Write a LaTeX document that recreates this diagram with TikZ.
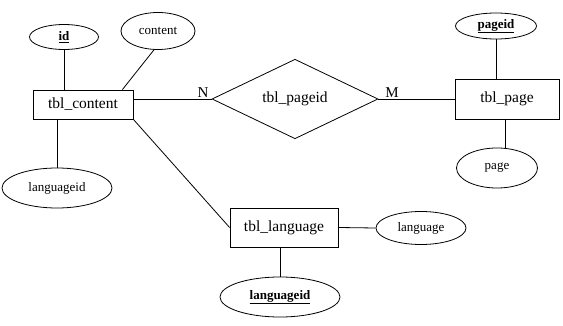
\documentclass[tikz,border=0pt]{standalone}
\usepackage{fontspec}
\setmainfont{Liberation Serif}
\usetikzlibrary{shapes.geometric}
\begin{document}
\begin{tikzpicture}[x=1pt,y=-1pt,line width=0.8pt,
  entity/.style={draw,rectangle,inner sep=0pt,font=\fontsize{15.5}{17}\selectfont},
  attr/.style={draw,ellipse,inner sep=0pt,font=\fontsize{13}{15}\selectfont},
  keyattr/.style={attr,font=\fontsize{13}{15}\selectfont\bfseries},
  rel/.style={draw,diamond,inner sep=0pt,font=\fontsize{15.5}{17}\selectfont},
  card/.style={inner sep=0pt,font=\fontsize{15}{17}\selectfont}]
\useasboundingbox (0,0) rectangle (563,326);
% entities
\node[entity,minimum width=100pt,minimum height=29pt] (tc) at (83,104.5) {tbl\_content};
\node[entity,minimum width=104pt,minimum height=40pt] (tp) at (507,99) {tbl\_page};
\node[entity,minimum width=108pt,minimum height=39pt] (tl) at (284,227.5) {tbl\_language};
% relationship
\node[rel,minimum width=166pt,minimum height=60pt] (r) at (295,99) {tbl\_pageid};
% attributes
\node[keyattr,minimum width=69pt,minimum height=25pt] (id) at (64,37) {\underline{id}};
\node[attr,minimum width=74pt,minimum height=37pt] (cont) at (158,31) {content};
\node[attr,minimum width=110pt,minimum height=40pt] (lid1) at (57,188) {languageid};
\node[keyattr,minimum width=81pt,minimum height=26pt] (pid) at (496,26) {\underline{pageid}};
\node[attr,minimum width=81pt,minimum height=40pt] (pg) at (497,168) {page};
\node[attr,minimum width=90pt,minimum height=33pt] (lang) at (421,228) {language};
\node[keyattr,minimum width=120pt,minimum height=40pt] (lid2) at (280,297) {\underline{languageid}};
% cardinalities
\node[card] (n) at (203,93) {N};
\node[card] (m) at (392,93) {M};
% connectors
\draw (id.south) -- (id.south |- tc.north);
\draw (cont.-102) -- ([xshift=-11pt]tc.north east);
\draw (lid1.north) -- (lid1.north |- tc.south);
\draw (tc.east |- r.west) -- (r.west);
\draw (r.east) -- (tp.west);
\draw (tc.south east) -- (tl.west);
\draw (tl.east) -- (lang.west);
\draw (lid2.north) -- (lid2.north |- tl.south);
\draw (pid.south) -- (pid.south |- tp.north);
\draw ([xshift=-2pt]tp.south) -- ([xshift=-2pt]tp.south |- pg.north);
\end{tikzpicture}
\end{document}
